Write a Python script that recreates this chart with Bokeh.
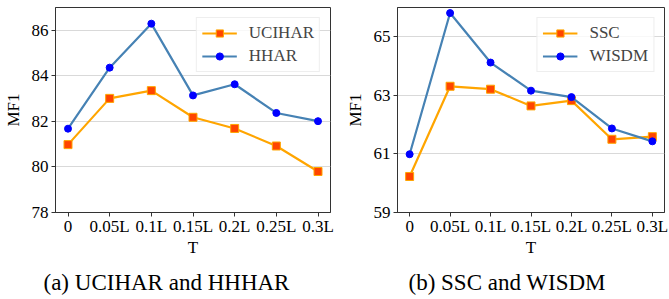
from bokeh.plotting import figure
from bokeh.layouts import row
from bokeh.models import FixedTicker, Range1d, Legend, LegendItem, Title
from bokeh.embed import file_html
from bokeh.resources import INLINE

T_LABELS = ["0", "0.05L", "0.1L", "0.15L", "0.2L", "0.25L", "0.3L"]
UCIHAR = [80.98, 83.01, 83.35, 82.18, 81.69, 80.92, 79.80]
HHAR = [81.68, 84.36, 86.29, 83.14, 83.63, 82.37, 82.01]
SSC = [60.23, 63.31, 63.21, 62.64, 62.82, 61.50, 61.59]
WISDM = [60.99, 65.81, 64.12, 63.16, 62.94, 61.87, 61.43]

LEFT_YTICKS = [78, 80, 82, 84, 86]
RIGHT_YTICKS = [59, 61, 63, 65]

FONT = "Liberation Serif"
XS = list(range(len(T_LABELS)))


def make_panel(s1, s2, n1, n2, yticks, yr, caption, fw, bl, br, cap_off):
    p = figure(frame_width=fw, frame_height=205, output_backend="svg",
               toolbar_location=None, min_border_left=bl, min_border_right=br,
               min_border_top=7, min_border_bottom=87,
               x_range=Range1d(-0.3, len(T_LABELS) - 0.7), y_range=Range1d(*yr))
    p.outline_line_color = "#333333"
    p.outline_line_width = 1
    p.xgrid.grid_line_color = None
    p.ygrid.grid_line_color = "#d9d9d9"
    p.ygrid.grid_line_width = 1.2

    p.xaxis.ticker = FixedTicker(ticks=XS)
    p.xaxis.major_label_overrides = {i: t for i, t in enumerate(T_LABELS)}
    p.yaxis.ticker = FixedTicker(ticks=yticks)

    p.axis.axis_line_color = "#333333"
    p.axis.major_tick_line_color = "#333333"
    p.axis.major_tick_out = 4
    p.axis.major_tick_in = 0
    p.axis.minor_tick_line_color = None
    p.axis.major_label_text_font = FONT
    p.axis.major_label_text_font_size = "17px"
    p.axis.major_label_text_color = "black"
    p.axis.axis_label_text_font = FONT
    p.axis.axis_label_text_font_size = "17px"
    p.axis.axis_label_text_font_style = "normal"
    p.axis.axis_label_text_color = "black"

    p.xaxis.major_label_standoff = 0
    p.yaxis.major_label_standoff = 3
    p.xaxis.axis_label = "T"
    p.xaxis.axis_label_standoff = -1
    p.yaxis.axis_label = "MF1"
    p.yaxis.axis_label_standoff = 6

    l1 = p.line(XS, s1, line_color="#FFA500", line_width=2.2)
    m1 = p.scatter(XS, s1, marker="square", size=8, fill_color="#FF4500",
                   line_color="#FFA500", line_width=1)
    l2 = p.line(XS, s2, line_color="#4682B4", line_width=2.2)
    m2 = p.scatter(XS, s2, marker="circle", size=7, fill_color="#0000FF",
                   line_color="#0000FF", line_width=1)

    legend = Legend(items=[LegendItem(label=n1, renderers=[l1, m1]),
                           LegendItem(label=n2, renderers=[l2, m2])],
                    location="top_right", label_text_font=FONT,
                    label_text_font_size="17px", glyph_width=35, glyph_height=18,
                    label_standoff=12, spacing=3, padding=5, margin=10,
                    border_line_color="#dddddd", border_line_width=1,
                    background_fill_alpha=0.8)
    p.add_layout(legend)

    cap = Title(text=caption, align="left", text_font=FONT,
                text_font_size="23px", text_font_style="normal",
                text_color="black", standoff=17, offset=cap_off)
    p.add_layout(cap, "below")
    return p


p1 = make_panel(UCIHAR, HHAR, "UCIHAR", "HHAR", LEFT_YTICKS, (78, 87),
                "(a) UCIHAR and HHHAR", 275, 51, 9, -12)
p2 = make_panel(SSC, WISDM, "SSC", "WISDM", RIGHT_YTICKS, (59, 66),
                "(b) SSC and WISDM", 267, 58, 9, 11)

layout = row(p1, p2, spacing=0)
open("out.html", "w").write(file_html(layout, INLINE))
